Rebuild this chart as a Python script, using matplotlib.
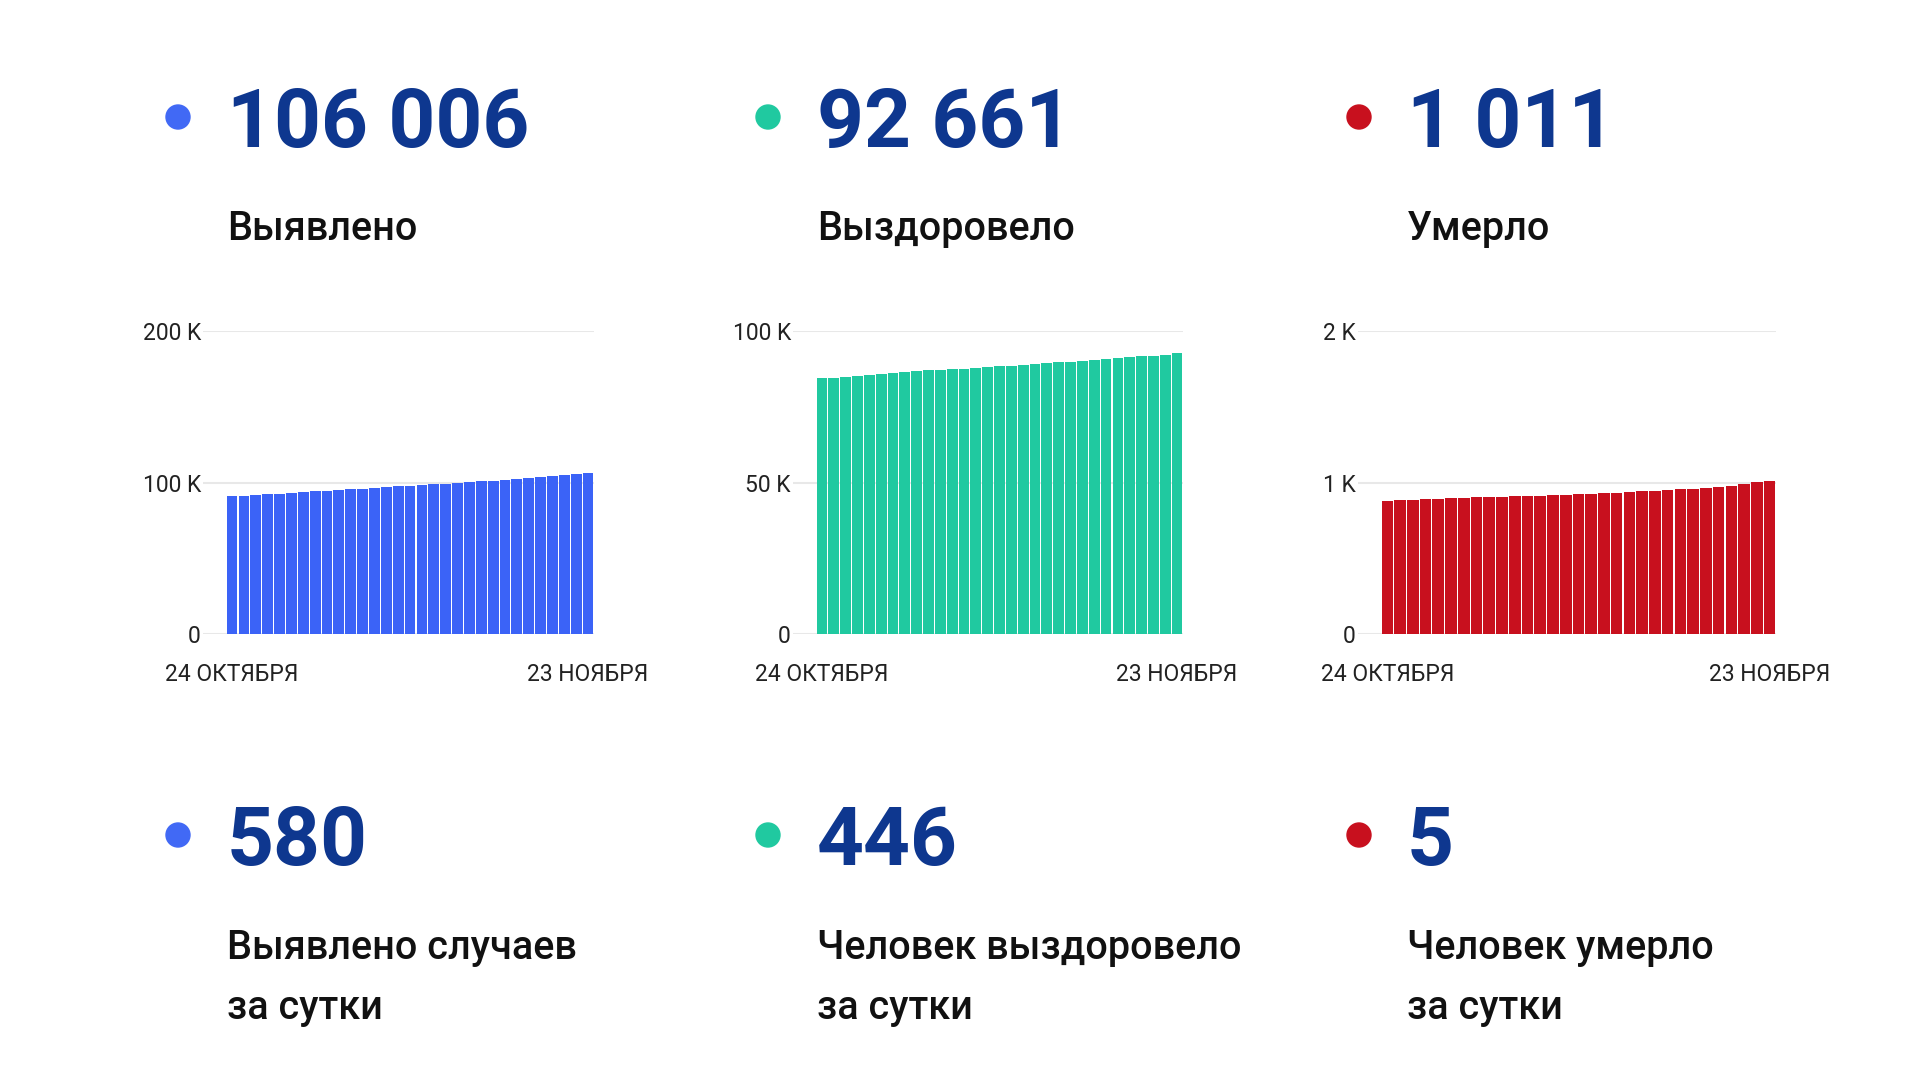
import matplotlib
matplotlib.use("Agg")
import matplotlib.pyplot as plt
from matplotlib.patches import Circle

plt.rcParams['font.family'] = ['Roboto', 'DejaVu Sans']

# ---------------- data ----------------
dates = ["24 ОКТЯБРЯ", "23 НОЯБРЯ"]

detected = [90900, 91300, 91800, 92200, 92600, 93100, 93500, 94100, 94600, 95100,
            95500, 96000, 96400, 96900, 97400, 97800, 98300, 98800, 99300, 99800,
            100300, 100800, 101300, 101800, 102300, 102800, 103400, 104000, 104800,
            105426, 106006]
recovered = [84400, 84600, 84900, 85200, 85500, 85800, 86100, 86400, 86700, 87000,
             87200, 87400, 87600, 87800, 88000, 88300, 88600, 88900, 89200, 89500,
             89700, 89900, 90100, 90400, 90700, 91000, 91300, 91600, 91900,
             92215, 92661]
died = [879, 882, 886, 888, 892, 895, 898, 901, 904, 907,
        909, 911, 914, 917, 920, 923, 926, 929, 933, 937,
        941, 946, 951, 955, 958, 961, 970, 979, 988, 1006, 1011]

totals = ["106 006", "92 661", "1 011"]
total_labels = ["Выявлено", "Выздоровело", "Умерло"]
daily = ["580", "446", "5"]
daily_labels = [["Выявлено случаев", "за сутки"],
                ["Человек выздоровело", "за сутки"],
                ["Человек умерло", "за сутки"]]

y_ticks = [[0, 100000, 200000], [0, 50000, 100000], [0, 1000, 2000]]
y_ticklabels = [["0", "100 K", "200 K"], ["0", "50 K", "100 K"], ["0", "1 K", "2 K"]]

series = [detected, recovered, died]
bar_colors = ["#3b63f7", "#20c9a0", "#c8101e"]
dot_colors = ["#4169f5", "#20c9a0", "#c8101e"]
num_color = "#0e378f"

W, H = 1920, 1080
fig = plt.figure(figsize=(W / 100, H / 100), dpi=100)
fig.patch.set_facecolor("white")

# chart axes positions in pixels: (left, right), plus left padding in slots
chart_x = [(203, 594, 1.95), (793, 1183, 1.95), (1358, 1776, 1.8)]
y_top, y_zero = 331, 634

for i, vals in enumerate(series):
    l, r, pad = chart_x[i]
    ax = fig.add_axes([l / W, 1 - y_zero / H, (r - l) / W, (y_zero - y_top) / H])
    x = list(range(len(vals)))
    ax.bar(x, vals, width=0.91, color=bar_colors[i], zorder=3)
    ax.set_xlim(-0.5 - pad, len(vals) - 0.5)
    ax.set_ylim(0, y_ticks[i][-1])
    ax.set_yticks(y_ticks[i])
    ax.set_yticklabels(y_ticklabels[i])
    ax.set_xticks([0, len(vals) - 1])
    ax.set_xticklabels(dates)
    for s in ax.spines.values():
        s.set_visible(False)
    ax.grid(axis="y", color="#e8e8e8", linewidth=1.5, zorder=0)
    ax.tick_params(axis="y", length=0, pad=1.5, labelsize=16.5, labelcolor="#222222")
    ax.tick_params(axis="x", length=0, pad=21, labelsize=16.5, labelcolor="#222222")
    ax.set_facecolor("none")

# overlay for big numbers and labels
ov = fig.add_axes([0, 0, 1, 1])
ov.set_xlim(0, W)
ov.set_ylim(H, 0)
ov.axis("off")
ov.set_zorder(10)

dot_x = [178, 768, 1359]
text_x = [227, 817, 1407]

for i in range(3):
    # top row
    ov.add_patch(Circle((dot_x[i], 117), 12, color=dot_colors[i]))
    ov.text(text_x[i], 147, totals[i], fontsize=59, fontweight="bold",
            color=num_color, va="baseline", ha="left")
    ov.text(text_x[i], 240, total_labels[i], fontsize=28.5, fontweight=500,
            color="#111111", va="baseline", ha="left")
    # bottom row
    ov.add_patch(Circle((dot_x[i], 835), 12, color=dot_colors[i]))
    ov.text(text_x[i], 865, daily[i], fontsize=59, fontweight="bold",
            color=num_color, va="baseline", ha="left")
    for j, line in enumerate(daily_labels[i]):
        ov.text(text_x[i], 959 + 60 * j, line, fontsize=28.5, fontweight=500,
                color="#111111", va="baseline", ha="left")

fig.savefig("out.png", dpi=100, facecolor="white")
